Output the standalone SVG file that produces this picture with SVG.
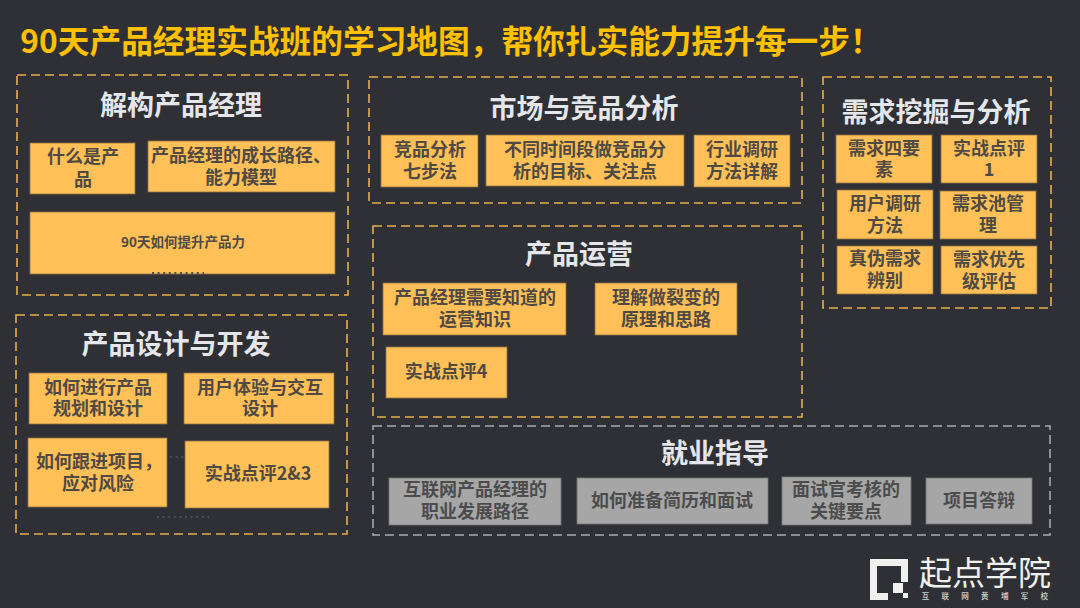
<svg xmlns="http://www.w3.org/2000/svg" width="1080" height="608" viewBox="0 0 1080 608">
<style>
text{font-family:"Noto Sans CJK SC","Noto Sans",sans-serif;text-anchor:middle;dominant-baseline:central}
.bg{fill:#2f3035}
.d{fill:none;stroke:#e9ae48;stroke-width:1.6;stroke-dasharray:9 5}
.g{fill:none;stroke:#a9a9a9;stroke-width:1.6;stroke-dasharray:9 5}
.b{fill:#ffc057;stroke:#8a7045;stroke-width:.8}
.c{fill:#a6a6a6;stroke:#777;stroke-width:.8}
.h{font-size:27px;font-weight:700;fill:#e4e6ea;transform:translateY(-2px)}
.t{font-size:18px;font-weight:700;fill:#4f4a44;transform:translateY(-1.2px)}
.s{font-size:13.5px;font-weight:700;fill:#4f4a44;transform:translateY(-1px)}
.u{font-size:18px;font-weight:700;fill:#4c4c4c;transform:translateY(-1.2px)}
.dots{stroke:#4c4d50;stroke-width:2;stroke-dasharray:2 3.6;fill:none}
.lg{fill:#f0f1ee}
</style>
<rect class="bg" width="1080" height="608"/>
<text id="title" x="451" y="39" style="font-size:31.7px;font-weight:700;fill:#ffc000">90天产品经理实战班的学习地图，帮你扎实能力提升每一步！</text>

<g id="sec1">
<rect class="d" x="17" y="75" width="331" height="220"/>
<text class="h" x="181" y="105">解构产品经理</text>
<g id="n1-1"><rect class="b" x="30" y="143" width="105" height="51"/><text class="t" x="83" y="156">什么是产</text><text class="t" x="83" y="179">品</text></g>
<g id="n1-2"><rect class="b" x="148" y="141" width="187" height="51"/><text class="t" x="241" y="155">产品经理的成长路径、</text><text class="t" x="241" y="177">能力模型</text></g>
<g id="n1-3"><rect class="b" x="30" y="212" width="305" height="62"/><text class="s" x="183" y="242">90天如何提升产品力</text></g>
<line class="dots" x1="152" y1="273" x2="204" y2="273"/>
</g>

<g id="sec2">
<rect class="d" x="16" y="315" width="331" height="219"/>
<text class="h" x="176" y="344">产品设计与开发</text>
<g id="n2-1"><rect class="b" x="29" y="373" width="138" height="51"/><text class="t" x="98" y="387">如何进行产品</text><text class="t" x="98" y="408">规划和设计</text></g>
<g id="n2-2"><rect class="b" x="184" y="373" width="150" height="51"/><text class="t" x="260" y="387">用户体验与交互</text><text class="t" x="260" y="408">设计</text></g>
<g id="n2-3"><rect class="b" x="28" y="438" width="139" height="69"/><text class="t" x="99" y="461">如何跟进项目，</text><text class="t" x="98" y="483">应对风险</text></g>
<g id="n2-4"><rect class="b" x="185" y="441" width="144" height="67"/><text class="t" x="258" y="473">实战点评2&amp;3</text></g>
<line class="dots" x1="170" y1="457" x2="185" y2="457"/>
<line class="dots" x1="157" y1="517" x2="209" y2="517"/>
</g>

<g id="sec3">
<rect class="d" x="369" y="77" width="433" height="126"/>
<text class="h" x="584" y="108">市场与竞品分析</text>
<g id="n3-1"><rect class="b" x="381" y="135" width="97" height="52"/><text class="t" x="430" y="149">竞品分析</text><text class="t" x="430" y="171">七步法</text></g>
<g id="n3-2"><rect class="b" x="486" y="135" width="198" height="51"/><text class="t" x="585" y="149">不同时间段做竞品分</text><text class="t" x="585" y="171">析的目标、关注点</text></g>
<g id="n3-3"><rect class="b" x="694" y="135" width="96" height="52"/><text class="t" x="742" y="149">行业调研</text><text class="t" x="742" y="171">方法详解</text></g>
</g>

<g id="sec4">
<rect class="d" x="373" y="226" width="429" height="191"/>
<text class="h" x="579" y="254">产品运营</text>
<g id="n4-1"><rect class="b" x="383" y="283" width="183" height="52"/><text class="t" x="475" y="297">产品经理需要知道的</text><text class="t" x="475" y="319">运营知识</text></g>
<g id="n4-2"><rect class="b" x="595" y="283" width="142" height="52"/><text class="t" x="666" y="297">理解做裂变的</text><text class="t" x="666" y="319">原理和思路</text></g>
<g id="n4-3"><rect class="b" x="386" y="347" width="121" height="51"/><text class="t" x="446" y="371">实战点评4</text></g>
</g>

<g id="sec5">
<rect class="d" x="823" y="77" width="228" height="231"/>
<text class="h" x="936" y="112">需求挖掘与分析</text>
<g id="n5-1"><rect class="b" x="836" y="135" width="96" height="48"/><text class="t" x="884" y="148">需求四要</text><text class="t" x="884" y="169">素</text></g>
<g id="n5-2"><rect class="b" x="941" y="135" width="96" height="48"/><text class="t" x="989" y="148">实战点评</text><text class="t" x="989" y="169">1</text></g>
<g id="n5-3"><rect class="b" x="837" y="190" width="96" height="49"/><text class="t" x="885" y="203">用户调研</text><text class="t" x="885" y="225">方法</text></g>
<g id="n5-4"><rect class="b" x="940" y="191" width="96" height="48"/><text class="t" x="988" y="203">需求池管</text><text class="t" x="988" y="225">理</text></g>
<g id="n5-5"><rect class="b" x="837" y="246" width="96" height="48"/><text class="t" x="885" y="258">真伪需求</text><text class="t" x="885" y="280">辨别</text></g>
<g id="n5-6"><rect class="b" x="941" y="246" width="96" height="48"/><text class="t" x="989" y="259">需求优先</text><text class="t" x="989" y="281">级评估</text></g>
</g>

<g id="sec6">
<rect class="g" x="373" y="426" width="677" height="109"/>
<text class="h" x="715" y="453">就业指导</text>
<g id="n6-1"><rect class="c" x="389" y="478" width="172" height="47"/><text class="u" x="475" y="489">互联网产品经理的</text><text class="u" x="475" y="511">职业发展路径</text></g>
<g id="n6-2"><rect class="c" x="577" y="478" width="191" height="46"/><text class="u" x="672" y="500">如何准备简历和面试</text></g>
<g id="n6-3"><rect class="c" x="782" y="477" width="129" height="48"/><text class="u" x="846" y="489">面试官考核的</text><text class="u" x="846" y="511">关键要点</text></g>
<g id="n6-4"><rect class="c" x="926" y="478" width="106" height="46"/><text class="u" x="979" y="500">项目答辩</text></g>
</g>

<g id="logo">
<path class="lg" d="M870 559H908V582H901V566H877V593H888V600H870Z"/>
<rect class="lg" x="893" y="583" width="10" height="10"/>
<rect class="lg" x="903" y="593" width="5" height="5"/>
<text class="lg" x="985" y="571" style="font-size:33px;font-weight:400">起点学院</text>
<text class="lg" x="991" y="595" style="font-size:7.5px;letter-spacing:12.3px;font-weight:500;opacity:.85">互联网黄埔军校</text>
</g>
</svg>
